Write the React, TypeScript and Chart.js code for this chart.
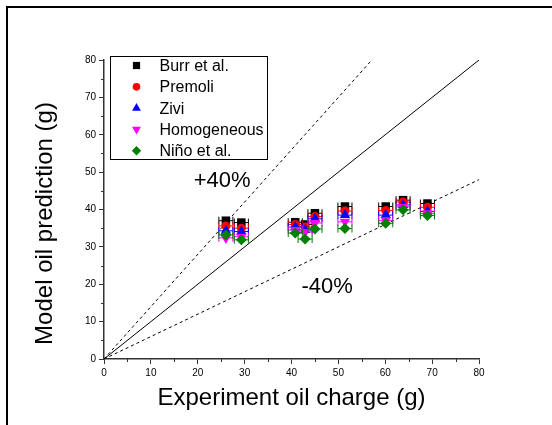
import React, { useEffect, useRef } from "react";
import { Chart, registerables } from "chart.js";

Chart.register(...registerables);

const experimentCharge = [26.0, 29.3, 40.8, 42.9, 45.0, 51.4, 60.1, 63.8, 69.0];
const burr = [37.0, 36.5, 36.6, 36.0, 39.0, 40.8, 40.8, 42.5, 41.6];
const premoli = [35.6, 35.0, 36.0, 35.3, 38.1, 39.6, 39.7, 42.0, 40.6];
const zivi = [34.3, 34.1, 35.3, 34.5, 37.5, 38.5, 38.5, 41.2, 39.5];
const homogeneous = [32.4, 32.7, 34.5, 34.0, 36.4, 36.7, 37.1, 40.7, 39.0];
const nino = [33.2, 31.9, 33.7, 32.1, 34.8, 34.9, 36.3, 39.9, 38.4];
const xError = 1.5;

const seriesNames = ["Burr et al.", "Premoli", "Zivi", "Homogeneous", "Niño et al."];
const seriesValues = [burr, premoli, zivi, homogeneous, nino];
const seriesColors = ["#000000", "#ff0000", "#0000ff", "#ff00ff", "#008000"];
const seriesStyles = ["rect", "circle", "triangle", "triangle", "rectRot"];
const seriesRotations = [0, 0, 0, 180, 0];
const seriesRadii = [6, 4.5, 6, 6, 5.5];

const refSlopes = [1, 1.4, 0.6];
const refDashed = [false, true, true];
const refLabels = ["+40%", "-40%"];
const refLabelPos = [
  { x: 25.2, y: 47.6 },
  { x: 47.6, y: 19.3 },
];

const axisMax = 80;
const tickLabels = [0, 10, 20, 30, 40, 50, 60, 70, 80];
const xTitle = "Experiment oil charge (g)";
const yTitle = "Model oil prediction (g)";
const FONT = "'Liberation Sans', Arial, sans-serif";

function drawMarker(ctx: CanvasRenderingContext2D, style: string, rot: number, r: number, x: number, y: number) {
  ctx.beginPath();
  if (style === "rect") {
    const s = r * Math.SQRT1_2;
    ctx.rect(x - s, y - s, 2 * s, 2 * s);
  } else if (style === "circle") {
    ctx.arc(x, y, r, 0, Math.PI * 2);
  } else if (style === "triangle") {
    let a = (rot * Math.PI) / 180;
    ctx.moveTo(x + Math.sin(a) * r, y - Math.cos(a) * r);
    a += (2 * Math.PI) / 3;
    ctx.lineTo(x + Math.sin(a) * r, y - Math.cos(a) * r);
    a += (2 * Math.PI) / 3;
    ctx.lineTo(x + Math.sin(a) * r, y - Math.cos(a) * r);
    ctx.closePath();
  } else {
    ctx.moveTo(x, y - r);
    ctx.lineTo(x + r, y);
    ctx.lineTo(x, y + r);
    ctx.lineTo(x - r, y);
    ctx.closePath();
  }
  ctx.fill();
}

export default function App() {
  const ref = useRef<HTMLCanvasElement | null>(null);

  useEffect(() => {
    if (!ref.current) return;

    const refDatasets = refSlopes.map((s, i) => {
      const xEnd = Math.min(axisMax, axisMax / s);
      return {
        type: "line" as const,
        label: "ref" + i,
        data: [
          { x: 0, y: 0 },
          { x: xEnd, y: xEnd * s },
        ],
        borderColor: "#000",
        borderWidth: 1,
        borderDash: refDashed[i] ? [3, 3] : [],
        pointRadius: 0,
        fill: false,
        order: 20,
      };
    });

    const scatterDatasets = seriesValues.map((vals, i) => ({
      type: "scatter" as const,
      label: seriesNames[i],
      data: vals.map((v, j) => ({ x: experimentCharge[j], y: v })),
      backgroundColor: seriesColors[i],
      borderColor: seriesColors[i],
      borderWidth: 0,
      pointStyle: seriesStyles[i],
      rotation: seriesRotations[i],
      pointRadius: seriesRadii[i],
      order: 10 - i,
    }));

    const extras = {
      id: "extras",
      beforeDatasetDraw(chart: any, args: any) {
        const ds = chart.data.datasets[args.index];
        const si = seriesNames.indexOf(ds.label);
        if (si < 0) return;
        const ctx = chart.ctx;
        const xs = chart.scales.x;
        const ys = chart.scales.y;
        ctx.save();
        ctx.strokeStyle = seriesColors[si];
        ctx.lineWidth = 1;
        seriesValues[si].forEach((v, j) => {
          const x1 = xs.getPixelForValue(experimentCharge[j] - xError);
          const x2 = xs.getPixelForValue(experimentCharge[j] + xError);
          const y = ys.getPixelForValue(v);
          ctx.beginPath();
          ctx.moveTo(x1, y);
          ctx.lineTo(x2, y);
          ctx.moveTo(x1, y - 4);
          ctx.lineTo(x1, y + 4);
          ctx.moveTo(x2, y - 4);
          ctx.lineTo(x2, y + 4);
          ctx.stroke();
        });
        ctx.restore();
      },
      afterDraw(chart: any) {
        const ctx = chart.ctx;
        const xs = chart.scales.x;
        const ys = chart.scales.y;
        const ca = chart.chartArea;
        ctx.save();
        // frame
        ctx.strokeStyle = "#000";
        ctx.lineWidth = 2;
        ctx.beginPath();
        ctx.moveTo(7, chart.height);
        ctx.lineTo(7, 7);
        ctx.lineTo(chart.width, 7);
        ctx.stroke();
        // minor ticks
        ctx.strokeStyle = "#333";
        ctx.lineWidth = 1;
        for (let v = 5; v < axisMax; v += 10) {
          const px = Math.round(xs.getPixelForValue(v)) + 0.5;
          ctx.beginPath();
          ctx.moveTo(px, ca.bottom);
          ctx.lineTo(px, ca.bottom + 3);
          ctx.stroke();
          const py = Math.round(ys.getPixelForValue(v)) + 0.5;
          ctx.beginPath();
          ctx.moveTo(ca.left, py);
          ctx.lineTo(ca.left - 3, py);
          ctx.stroke();
        }
        // axis titles
        ctx.fillStyle = "#000";
        ctx.font = "24px " + FONT;
        ctx.textAlign = "center";
        ctx.textBaseline = "middle";
        ctx.fillText(xTitle, (ca.left + ca.right) / 2, ca.bottom + 39);
        ctx.save();
        ctx.translate(45, (ca.top + ca.bottom) / 2 + 14);
        ctx.rotate(-Math.PI / 2);
        ctx.fillText(yTitle, 0, 0);
        ctx.restore();
        // ref labels
        ctx.font = "22px " + FONT;
        refLabels.forEach((t, i) => {
          ctx.fillText(t, xs.getPixelForValue(refLabelPos[i].x), ys.getPixelForValue(refLabelPos[i].y));
        });
        // legend
        const lx = ca.left + 6.5;
        const ly = ca.top - 3.5;
        const lw = 157;
        const lh = 103;
        ctx.fillStyle = "#fff";
        ctx.fillRect(lx, ly, lw, lh);
        ctx.strokeStyle = "#000";
        ctx.lineWidth = 1;
        ctx.strokeRect(lx, ly, lw, lh);
        ctx.font = "16px " + FONT;
        ctx.textAlign = "left";
        seriesNames.forEach((name, i) => {
          const cy = ly + 9 + i * 21.3;
          ctx.fillStyle = seriesColors[i];
          drawMarker(ctx, seriesStyles[i], seriesRotations[i], seriesRadii[i] * 0.85, lx + 26, cy);
          ctx.fillStyle = "#000";
          ctx.fillText(name, lx + 49, cy + 1);
        });
        ctx.restore();
      },
    };

    const chart = new Chart(ref.current, {
      type: "scatter",
      data: { datasets: [...refDatasets, ...scatterDatasets] as any },
      options: {
        animation: false,
        responsive: false,
        layout: { padding: { left: 0, top: 60, right: 73, bottom: 0 } },
        plugins: { legend: { display: false }, tooltip: { enabled: false } },
        scales: {
          x: {
            type: "linear",
            min: 0,
            max: axisMax,
            afterBuildTicks: (s: any) => {
              s.ticks = tickLabels.map((v) => ({ value: v }));
            },
            afterFit: (s: any) => {
              s.height = 66;
            },
            ticks: { font: { size: 10, family: FONT }, color: "#000", padding: 3, maxRotation: 0 },
            grid: { display: true, drawOnChartArea: false, drawTicks: true, tickLength: 5, color: "#333", lineWidth: 1 },
            border: { display: true, color: "#333", width: 1.5 },
            title: { display: false },
          },
          y: {
            type: "linear",
            min: 0,
            max: axisMax,
            afterBuildTicks: (s: any) => {
              s.ticks = tickLabels.map((v) => ({ value: v }));
            },
            afterFit: (s: any) => {
              s.width = 104;
            },
            ticks: { font: { size: 10, family: FONT }, color: "#000", padding: 3 },
            grid: { display: true, drawOnChartArea: false, drawTicks: true, tickLength: 5, color: "#333", lineWidth: 1 },
            border: { display: true, color: "#333", width: 1.5 },
            title: { display: false },
          },
        },
      },
      plugins: [extras],
    } as any);

    return () => chart.destroy();
  }, []);

  return (
    <div style={{ position: "fixed", left: 0, top: 0, width: 552, height: 425, background: "#fff" }}>
      <canvas ref={ref} width={552} height={425} style={{ display: "block", width: 552, height: 425 }} />
    </div>
  );
}
